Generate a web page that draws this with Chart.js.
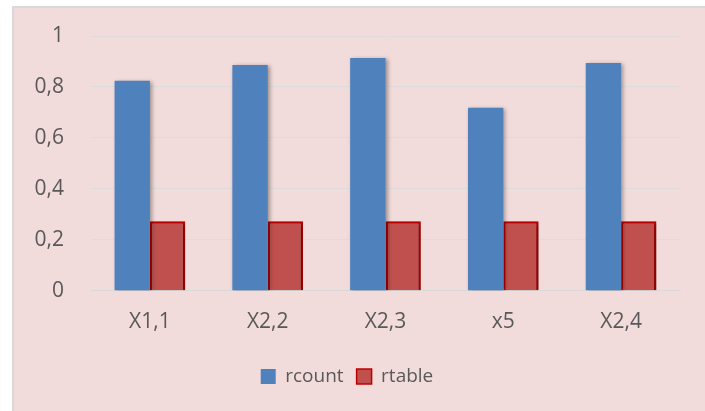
<!DOCTYPE html>
<html>
<head>
<meta charset="utf-8">
<script src="https://cdn.jsdelivr.net/npm/chart.js@4/dist/chart.umd.min.js"></script>
<style>
  html, body { margin: 0; padding: 0; background: #ffffff; width: 705px; height: 411px; overflow: hidden; }
  #frame {
    position: absolute; left: 12px; top: 6px;
    width: 691px; height: 403px;
    border-top: 2px solid #d9d9d9; border-left: 2px solid #d9d9d9;
    background: #F2DCDB;
  }
  #c { display: block; }
</style>
</head>
<body>
<div id="frame"><canvas id="c" width="691" height="403"></canvas></div>
<script>
const categories = ['X1,1', 'X2,2', 'X2,3', 'x5', 'X2,4'];
const rcount = [0.824, 0.886, 0.914, 0.718, 0.894];
const rtable = [0.273, 0.273, 0.273, 0.273, 0.273];
const yTickLabels = ['0', '0,2', '0,4', '0,6', '0,8', '1'];

const FONT = '"Open Sans", sans-serif';
const GREY = '#595959';

// soft drop shadow under the bars
const barShadow = {
  id: 'barShadow',
  beforeDatasetsDraw(chart) {
    const ctx = chart.ctx;
    ctx.save();
    ctx.shadowColor = 'rgba(0,0,0,0.35)';
    ctx.shadowBlur = 4;
    ctx.shadowOffsetX = 2;
    ctx.shadowOffsetY = 1;
  },
  afterDatasetsDraw(chart) {
    chart.ctx.restore();
  }
};

new Chart(document.getElementById('c'), {
  type: 'bar',
  data: {
    labels: categories,
    datasets: [
      {
        label: 'rcount',
        data: rcount,
        backgroundColor: '#4F81BD',
        borderWidth: 0,
        categoryPercentage: 0.6,
        barPercentage: 1.0
      },
      {
        label: 'rtable',
        data: rtable,
        backgroundColor: '#C0504D',
        borderColor: '#C00000',
        borderWidth: 2.5,
        categoryPercentage: 0.6,
        barPercentage: 1.0
      }
    ]
  },
  options: {
    responsive: false,
    animation: false,
    events: [],
    layout: { padding: { left: 0, right: 25, top: 28, bottom: 15 } },
    plugins: {
      tooltip: { enabled: false },
      legend: {
        position: 'bottom',
        labels: {
          boxWidth: 15,
          boxHeight: 15,
          padding: 13,
          color: GREY,
          font: { family: FONT, size: 19 },
          generateLabels(chart) {
            return chart.data.datasets.map((ds, i) => ({
              text: ds.label,
              fillStyle: ds.backgroundColor,
              strokeStyle: ds.borderColor || ds.backgroundColor,
              lineWidth: ds.borderWidth ? 1.5 : 0,
              fontColor: GREY,
              datasetIndex: i,
              hidden: false
            }));
          }
        }
      }
    },
    scales: {
      x: {
        grid: { display: false, drawTicks: false },
        border: { display: true, color: '#d9d9d9', width: 1 },
        ticks: { color: GREY, font: { family: FONT, size: 21 }, padding: 19 }
      },
      y: {
        min: 0,
        max: 1,
        afterFit(scale) {
          scale.width = 77;
          scale.paddingTop = 0;
          scale.paddingBottom = 0;
        },
        grid: { color: '#dcdcdc', lineWidth: 1, drawTicks: false },
        border: { display: false },
        ticks: {
          stepSize: 0.2,
          padding: 27,
          color: GREY,
          font: { family: FONT, size: 21 },
          callback: (v, i) => yTickLabels[i]
        }
      }
    }
  },
  plugins: [barShadow]
});
</script>
</body>
</html>
